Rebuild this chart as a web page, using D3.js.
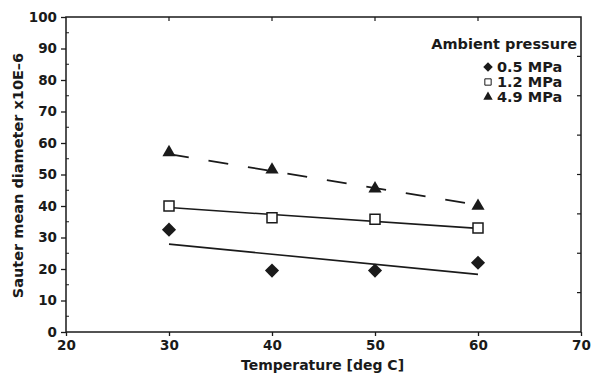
<!DOCTYPE html>
<html><head><meta charset="utf-8">
<script src="https://cdn.jsdelivr.net/npm/d3@7"></script>
<style>
html,body{margin:0;padding:0;background:#fff;}
text{font-family:"DejaVu Sans",sans-serif;font-weight:bold;fill:#1a1a1a;}
</style></head><body>
<svg id="c" width="599" height="378"></svg>
<script>
const temps = [30, 40, 50, 60];
const d05 = [32.5, 19.5, 19.5, 22];
const d12 = [40, 36.3, 35.8, 33];
const d49 = [57, 51.5, 45.5, 40];
const fit05 = [[30, 27.9], [60, 18.3]];
const fit12 = [[30, 39.5], [60, 32.9]];
const fit49 = [[30, 56.5], [60, 40.3]];
const xTicks = [20, 30, 40, 50, 60, 70];
const yTicks = [0, 10, 20, 30, 40, 50, 60, 70, 80, 90, 100];
const legendLabels = ["0.5 MPa", "1.2 MPa", "4.9 MPa"];

const svg = d3.select("#c");
const L = 66, R = 581, T = 17, B = 332;
const x = d3.scaleLinear().domain([20, 70]).range([L, R]);
const y = d3.scaleLinear().domain([0, 100]).range([B, T]);
const ink = "#1a1a1a";

// frame
svg.append("rect").attr("x", L).attr("y", T).attr("width", R - L).attr("height", B - T)
  .attr("fill", "none").attr("stroke", ink).attr("stroke-width", 1.5);

// axes
const yAxis = svg.append("g").attr("transform", `translate(${L},0)`)
  .call(d3.axisLeft(y).tickValues(yTicks).tickSize(5).tickSizeOuter(0));
yAxis.select(".domain").remove();
yAxis.selectAll("line").attr("stroke", ink).attr("stroke-width", 1.3);
yAxis.selectAll("text").attr("font-size", 13.5).attr("dx", "-1");
// minor y ticks
svg.append("g").selectAll("line").data(d3.range(5, 100, 10)).join("line")
  .attr("x1", L).attr("x2", L + 3).attr("y1", d => y(d)).attr("y2", d => y(d))
  .attr("stroke", ink).attr("stroke-width", 1);

const xAxis = svg.append("g").attr("transform", `translate(0,${B})`)
  .call(d3.axisBottom(x).tickValues(xTicks).tickSize(4).tickSizeOuter(0));
xAxis.select(".domain").remove();
xAxis.selectAll("line").attr("stroke", ink).attr("stroke-width", 1.3);
xAxis.selectAll("text").attr("font-size", 13.5).attr("dy", "0.85em");
// top ticks
svg.append("g").selectAll("line").data(xTicks.slice(1, -1)).join("line")
  .attr("x1", d => x(d)).attr("x2", d => x(d)).attr("y1", T).attr("y2", T + 4)
  .attr("stroke", ink).attr("stroke-width", 1.2);
// right ticks
svg.append("g").selectAll("line").data(d3.range(12.5, 100, 12.5)).join("line")
  .attr("x1", R).attr("x2", R - 4).attr("y1", d => y(d)).attr("y2", d => y(d))
  .attr("stroke", ink).attr("stroke-width", 1.2);

// axis titles
svg.append("text").attr("x", x(45) - 1).attr("y", 370).attr("text-anchor", "middle")
  .attr("font-size", 14).text("Temperature [deg C]");
svg.append("text").attr("transform", `translate(23,${y(50) + 1}) rotate(-90)`)
  .attr("text-anchor", "middle").attr("font-size", 14.5).text("Sauter mean diameter x10E\u20136");

// fit lines
const line = d3.line().x(d => x(d[0])).y(d => y(d[1]));
svg.append("path").datum(fit05).attr("d", line).attr("stroke", ink).attr("stroke-width", 1.6).attr("fill", "none");
svg.append("path").datum(fit12).attr("d", line).attr("stroke", ink).attr("stroke-width", 1.6).attr("fill", "none");
svg.append("path").datum(fit49).attr("d", line).attr("stroke", ink).attr("stroke-width", 1.8)
  .attr("fill", "none").attr("stroke-dasharray", "20,20");

// markers
const series = [
  {vals: d05, kind: "diamond", size: 100, fill: ink, sw: 0, legendSize: 45},
  {vals: d12, kind: "square", size: 100, fill: "#fff", sw: 1.5, legendSize: 40},
  {vals: d49, kind: "triangle", size: 75, fill: ink, sw: 0, legendSize: 38}
];
const symType = k => k === "triangle" ? d3.symbolTriangle : d3.symbolSquare;
const rot = k => k === "diamond" ? " rotate(45)" : "";
series.forEach(s => {
  svg.append("g").selectAll("path").data(temps.map((t, i) => [t, s.vals[i]])).join("path")
    .attr("transform", d => `translate(${x(d[0])},${y(d[1])})` + rot(s.kind))
    .attr("d", d3.symbol().type(symType(s.kind)).size(s.size))
    .attr("fill", s.fill).attr("stroke", ink).attr("stroke-width", s.sw);
});

// legend
svg.append("text").attr("x", 577).attr("y", 49).attr("text-anchor", "end").attr("font-size", 14.5).text("Ambient pressure");
series.forEach((s, i) => {
  const ly = 67 + i * 15;
  svg.append("path")
    .attr("transform", `translate(488,${ly})` + rot(s.kind))
    .attr("d", d3.symbol().type(symType(s.kind)).size(s.legendSize))
    .attr("fill", s.fill).attr("stroke", ink).attr("stroke-width", s.sw ? 1 : 0);
  svg.append("text").attr("x", 497).attr("y", ly + 5).attr("font-size", 14.5).text(legendLabels[i]);
});
</script></body></html>
